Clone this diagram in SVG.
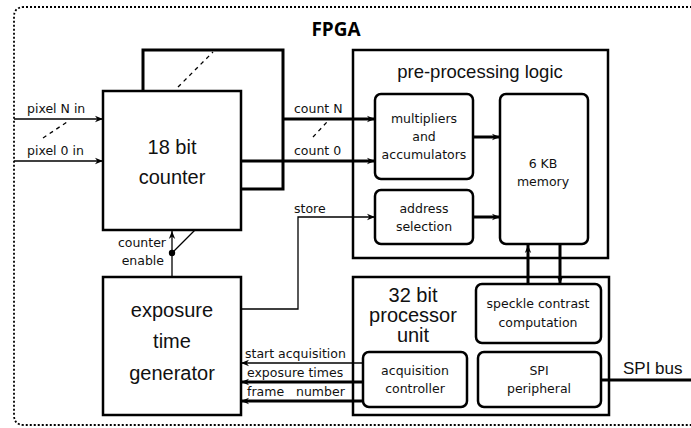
<svg xmlns="http://www.w3.org/2000/svg" width="691" height="428" viewBox="0 0 691 428">
<style>
.box{fill:#fff;stroke:#000;stroke-width:2.5}
.rbox{fill:#fff;stroke:#000;stroke-width:2.5}
.big{font-family:"Liberation Sans",Arial,sans-serif;font-size:20px;fill:#111;text-anchor:middle}
.mid{font-family:"DejaVu Sans",Verdana,sans-serif;font-size:12.5px;fill:#111;text-anchor:middle}
.lab{font-family:"DejaVu Sans",Verdana,sans-serif;font-size:12.5px;fill:#111}
.thin{fill:none;stroke:#000;stroke-width:1.3}
.thick{fill:none;stroke:#000;stroke-width:3}
.dash{fill:none;stroke:#000;stroke-width:1.3;stroke-dasharray:4,4}
</style>
<defs>
<marker id="ah" viewBox="0 0 10 10" refX="10" refY="5" markerWidth="10" markerHeight="8" markerUnits="userSpaceOnUse" orient="auto">
<path d="M0,1 L10,5 L0,9 L3,5 z" fill="#000"/>
</marker>
</defs>
<rect width="691" height="428" fill="#fff"/>
<g id="fpga">
<path d="M700,7 H24 Q14,7 14,17 V415 Q14,425 24,425 H700" fill="none" stroke="#000" stroke-width="1.8" stroke-dasharray="2,2"/>
<text x="336" y="36" text-anchor="middle" font-family="'Open Sans','Liberation Sans',sans-serif" font-weight="bold" font-size="19" fill="#000">FPGA</text>
</g>
<g id="counter">
<rect class="box" x="103" y="91" width="138" height="139"/>
<text class="big" x="172" y="154">18 bit</text>
<text class="big" x="172" y="184">counter</text>
</g>
<g id="exposure">
<rect class="box" x="103" y="277" width="138" height="138"/>
<text class="big" x="172" y="317">exposure</text>
<text class="big" x="172" y="348">time</text>
<text class="big" x="172" y="380">generator</text>
</g>
<g id="preproc">
<rect class="box" x="353" y="50" width="255" height="208"/>
<text class="big" x="480" y="78" style="font-size:18.5px">pre-processing logic</text>
</g>
<g id="multipliers">
<rect class="rbox" x="375" y="94" width="98" height="85" rx="6"/>
<text class="mid" x="424" y="123">multipliers</text>
<text class="mid" x="424" y="141">and</text>
<text class="mid" x="424" y="159">accumulators</text>
</g>
<g id="memory">
<rect class="rbox" x="500" y="94" width="88" height="150" rx="6"/>
<text class="mid" x="543" y="168">6 KB</text>
<text class="mid" x="543" y="186">memory</text>
</g>
<g id="address">
<rect class="rbox" x="375" y="190" width="98" height="54" rx="6"/>
<text class="mid" x="424" y="213">address</text>
<text class="mid" x="424" y="231">selection</text>
</g>
<g id="processor">
<rect class="box" x="353" y="277" width="256" height="138"/>
<text class="big" x="413" y="302">32 bit</text>
<text class="big" x="413" y="322">processor</text>
<text class="big" x="413" y="342">unit</text>
</g>
<g id="speckle">
<rect class="rbox" x="476" y="284" width="125" height="59" rx="6"/>
<text class="mid" x="538" y="308">speckle contrast</text>
<text class="mid" x="538" y="327">computation</text>
</g>
<g id="acq">
<rect class="rbox" x="363" y="352" width="104" height="55" rx="6"/>
<text class="mid" x="415" y="375">acquisition</text>
<text class="mid" x="415" y="393">controller</text>
</g>
<g id="spi">
<rect class="rbox" x="478" y="352" width="123" height="55" rx="6"/>
<text class="mid" x="539" y="375">SPI</text>
<text class="mid" x="539" y="393">peripheral</text>
</g>
<g id="connectors">
<path class="thick" d="M143,90 V50 H283 V189 H241"/>
<line class="dash" x1="178" y1="87" x2="213" y2="52"/>
<line class="thin" x1="14" y1="119" x2="103" y2="119" marker-end="url(#ah)"/>
<line class="thin" x1="14" y1="161" x2="103" y2="161" marker-end="url(#ah)"/>
<line class="dash" x1="43" y1="138" x2="67" y2="122"/>
<line class="thick" x1="283" y1="119" x2="375" y2="119" marker-end="url(#ah)"/>
<line class="thick" x1="241" y1="161" x2="375" y2="161" marker-end="url(#ah)"/>
<line class="dash" x1="313" y1="137" x2="327" y2="122"/>
<line class="thick" x1="473" y1="137" x2="500" y2="137" marker-end="url(#ah)"/>
<line class="thick" x1="473" y1="217" x2="500" y2="217" marker-end="url(#ah)"/>
<path class="thin" d="M241,309 H298 V217 H375" marker-end="url(#ah)"/>
<line class="thin" x1="172" y1="277" x2="172" y2="231" marker-end="url(#ah)"/>
<circle cx="172" cy="253" r="3.2" fill="#000"/>
<line class="thin" x1="172" y1="253" x2="195" y2="230"/>
<line class="thick" x1="528" y1="284" x2="528" y2="245" marker-end="url(#ah)"/>
<line class="thick" x1="560" y1="245" x2="560" y2="284" marker-end="url(#ah)"/>
<line class="thin" x1="363" y1="363" x2="241" y2="363" marker-end="url(#ah)"/>
<line class="thick" x1="363" y1="382" x2="241" y2="382" marker-end="url(#ah)"/>
<line class="thick" x1="363" y1="401" x2="241" y2="401" marker-end="url(#ah)"/>
<line class="thick" x1="601" y1="380" x2="691" y2="380"/>
<text class="lab" x="27" y="113">pixel N in</text>
<text class="lab" x="27" y="155">pixel 0 in</text>
<text class="lab" x="294" y="113">count N</text>
<text class="lab" x="294" y="155">count 0</text>
<text class="lab" x="294" y="213">store</text>
<text class="lab" x="166" y="247" text-anchor="end">counter</text>
<text class="lab" x="164" y="265" text-anchor="end">enable</text>
<text class="lab" x="245" y="358">start acquisition</text>
<text class="lab" x="247" y="377">exposure times</text>
<text class="lab" x="247" y="396" xml:space="preserve">frame   number</text>
<text x="623" y="374" font-family="'Liberation Sans',Arial,sans-serif" font-size="17" fill="#111">SPI bus</text>
</g>
</svg>
